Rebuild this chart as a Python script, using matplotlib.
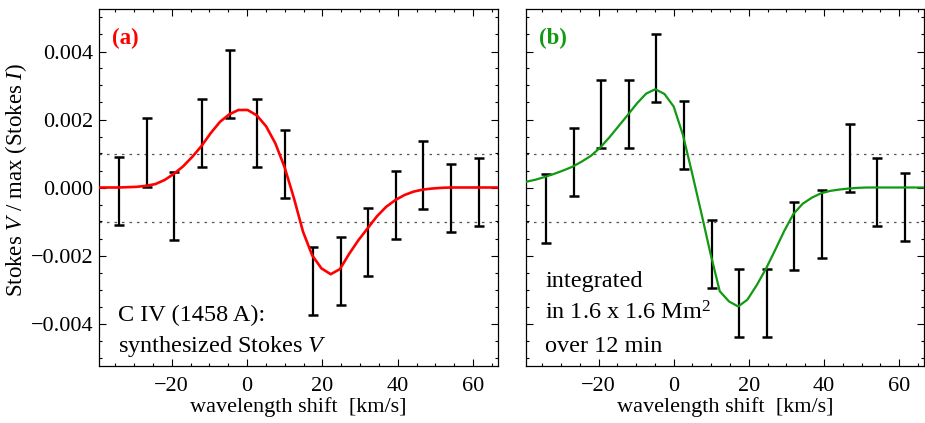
import matplotlib
matplotlib.use("Agg")
import matplotlib.pyplot as plt
from matplotlib.ticker import MultipleLocator, FuncFormatter

plt.rcParams['font.family'] = ['Liberation Serif', 'DejaVu Serif']
plt.rcParams['mathtext.fontset'] = 'custom'
plt.rcParams['mathtext.rm'] = 'Liberation Serif'
plt.rcParams['mathtext.it'] = 'Liberation Serif:italic'

# velocity positions of the observed spectral points [km/s]
vel = [-34.0, -26.6, -19.3, -11.9, -4.6, 2.7, 10.1, 17.4, 24.8, 32.1, 39.5, 46.8, 54.2, 61.5]

# (a) synthesized C IV Stokes V, degraded points (units of 1e-3)
a_obs = [-0.10, 1.03, -0.55, 1.61, 3.04, 1.60, 0.68, -2.75, -2.45, -1.61, -0.51, 0.36, -0.30, -0.13]
a_err = [1.01, 1.01, 1.00, 1.00, 1.00, 1.00, 1.00, 1.00, 1.00, 1.00, 1.00, 1.00, 1.00, 1.00]

# (a) full-resolution synthetic profile
a_vel = [-41.5, -39.05, -36.6, -34.15, -31.7, -29.25, -26.8, -24.35, -21.9, -19.45,
         -17.0, -14.55, -12.1, -9.65, -7.2, -4.75, -2.3, 0.15, 2.6, 5.05,
         7.5, 9.95, 12.4, 14.85, 17.3, 19.75, 22.2, 24.65, 27.1, 29.55,
         32.0, 34.45, 36.9, 39.35, 41.8, 44.25, 46.7, 49.15, 51.6, 54.05,
         56.5, 58.95, 61.4, 63.85, 66.3, 68.75]
a_prof = [0.0, 0.0, 0.0, 0.0, 0.01, 0.02, 0.05, 0.10, 0.22, 0.40,
          0.62, 0.90, 1.22, 1.60, 1.93, 2.15, 2.28, 2.28, 2.12, 1.80,
          1.30, 0.60, -0.30, -1.30, -2.00, -2.38, -2.55, -2.40, -1.95, -1.55,
          -1.20, -0.85, -0.57, -0.37, -0.22, -0.12, -0.06, -0.03, -0.01, 0.0,
          0.0, 0.0, 0.0, 0.0, 0.0, 0.0]

# (b) integrated profile, observed points and fitted curve (units of 1e-3)
b_obs = [-0.62, 0.76, 2.15, 2.15, 3.52, 1.55, -1.96, -3.40, -3.40, -1.42, -1.07, 0.86, -0.13, -0.57]
b_err = [1.01, 1.00, 1.00, 1.00, 1.00, 1.00, 1.00, 1.00, 1.00, 1.00, 1.00, 1.00, 1.00, 1.00]

b_vel = [-41.65, -39.2, -36.75, -34.3, -31.85, -29.4, -26.95, -24.5, -22.05, -19.6,
         -17.15, -14.7, -12.25, -9.8, -7.35, -4.9, -2.45, 0.0, 2.45, 4.9,
         7.35, 9.8, 12.25, 14.7, 17.15, 19.6, 22.05, 24.5, 26.95, 29.4,
         31.85, 34.3, 36.75, 39.2, 41.65, 44.1, 46.55, 49.0, 51.45, 53.9,
         56.35, 58.8, 61.25, 63.7, 66.15, 68.6]
b_prof = [0.12, 0.17, 0.23, 0.31, 0.40, 0.50, 0.61, 0.76, 0.93, 1.17,
          1.47, 1.80, 2.13, 2.47, 2.76, 2.89, 2.75, 2.38, 1.55, 0.42,
          -0.75, -1.95, -3.05, -3.35, -3.50, -3.30, -2.88, -2.40, -1.85, -1.28,
          -0.78, -0.48, -0.30, -0.17, -0.10, -0.06, -0.03, -0.01, 0.0, 0.0,
          0.0, 0.0, 0.0, 0.0, 0.0, 0.0]

noise_level = 1.0  # +/- 1e-3 reference lines

def scale(vals):
    return [v * 1e-3 for v in vals]

def ylab(v, pos):
    s = '%.3f' % v
    if s.startswith('-') and float(s) != 0:
        s = '\u2212' + s[1:]
    return s.replace('-0.000', '0.000')

fig = plt.figure(figsize=(9.25, 4.23), dpi=100)
ax1 = fig.add_axes([99/925, 57/423, 399/925, 357/423])
ax2 = fig.add_axes([526/925, 57/423, 398/925, 357/423])

panels = [
    (ax1, a_vel, a_prof, a_obs, a_err, '#ff0000', 1.9, '(a)'),
    (ax2, b_vel, b_prof, b_obs, b_err, '#119911', 1.6, '(b)'),
]

for ax, cv, cp, obs, err, col, lw, tag in panels:
    ax.axhline(noise_level * 1e-3, color='#555555', lw=0.9, ls=(0, (2, 4)), zorder=1)
    ax.axhline(-noise_level * 1e-3, color='#555555', lw=0.9, ls=(0, (2, 4)), zorder=1)
    ax.errorbar(vel, scale(obs), yerr=scale(err), fmt='none', ecolor='black',
                elinewidth=1.6, capsize=3.8, capthick=1.8, zorder=2)
    ax.plot(cv, scale(cp), color=col, lw=lw, zorder=3)

    ax.set_xlim(-39.3, 66.6)
    ax.set_ylim(-0.00525, 0.00525)
    ax.xaxis.set_major_locator(MultipleLocator(20))
    ax.xaxis.set_minor_locator(MultipleLocator(5))
    ax.yaxis.set_major_locator(MultipleLocator(0.002))
    ax.yaxis.set_minor_locator(MultipleLocator(0.0005))
    ax.tick_params(which='both', direction='in', top=True, right=True, width=0.8, labelsize=16)
    ax.tick_params(which='major', length=5)
    ax.tick_params(which='minor', length=2.5)
    ax.tick_params(axis='x', pad=8)
    ax.tick_params(axis='y', pad=4)
    for sp in ax.spines.values():
        sp.set_linewidth(0.9)
    ax.set_xlabel('wavelength shift  [km/s]', fontsize=16, labelpad=1)
    ax.text(0.032, 0.948, tag, transform=ax.transAxes, color=col, fontsize=16.5,
            fontweight='bold', ha='left', va='top')

ax1.yaxis.set_major_formatter(FuncFormatter(ylab))
ax2.set_yticklabels([])

ax1.text(0.048, 0.127, 'C IV (1458 A):', transform=ax1.transAxes, fontsize=17.5, va='baseline')
ax1.text(0.048, 0.039, 'synthesized Stokes $V$', transform=ax1.transAxes, fontsize=17.5, va='baseline')

ax2.text(0.048, 0.220, 'integrated', transform=ax2.transAxes, fontsize=17.5, va='baseline')
ax2.text(0.048, 0.129, 'in 1.6 x 1.6 Mm$^2$', transform=ax2.transAxes, fontsize=17.5, va='baseline')
ax2.text(0.048, 0.040, 'over 12 min', transform=ax2.transAxes, fontsize=17.5, va='baseline')

fig.text(16/925, 126/423, 'Stokes $V$ / max (Stokes $I$)', rotation=90,
         ha='center', va='bottom', fontsize=16.5)

fig.savefig('out.png', dpi=100)
